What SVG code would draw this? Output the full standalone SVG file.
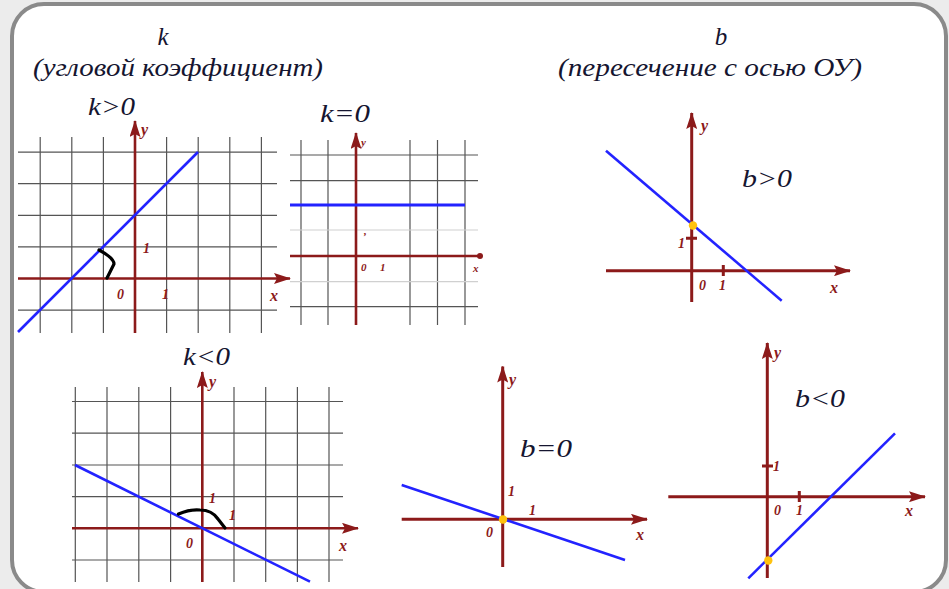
<svg xmlns="http://www.w3.org/2000/svg" width="949" height="589" viewBox="0 0 949 589">
<style>
.grid{stroke:#555;stroke-width:1.2;fill:none}
.lgrid{stroke:#d0d0d0;stroke-width:1.2;fill:none}
.ax{stroke:#8c1a1a;stroke-width:2.6;fill:none}
.axb{stroke:#8c1a1a;stroke-width:3;fill:none}
.ln{stroke:#2323ff;stroke-width:2.6;fill:none}
.ang{stroke:#000;stroke-width:3.2;fill:none;stroke-linecap:round;stroke-linejoin:round}
.dot{fill:#ffc20e}
.al{font-family:"Liberation Serif",serif;font-style:italic;font-weight:bold;fill:#8c1a1a;font-size:14px}
.alx{font-family:"Liberation Serif",serif;font-style:italic;font-weight:bold;fill:#8c1a1a;font-size:16px}
.als{font-family:"Liberation Serif",serif;font-style:italic;font-weight:bold;fill:#8c1a1a;font-size:11px}
.ttl{font-family:"Liberation Serif","DejaVu Serif",serif;font-style:italic;fill:#151530;font-size:25px}
.lbl{font-family:"Liberation Serif","DejaVu Serif",serif;font-style:italic;fill:#151530;font-size:25px}
</style>
<defs>
<marker id="arr" markerUnits="userSpaceOnUse" markerWidth="17" markerHeight="11" viewBox="0 0 17 11" refX="16" refY="5.5" orient="auto">
<path d="M0,0 L17,5.5 L0,11 L3,5.5 z" fill="#8c1a1a"/>
</marker>
</defs>
<rect x="0" y="0" width="949" height="589" fill="#ececec"/>
<rect x="12" y="4" width="934" height="588" rx="32" ry="32" fill="#ffffff" stroke="#8a8a8a" stroke-width="4"/>

<g id="headers">
<text class="ttl" x="163" y="45" text-anchor="middle">k</text>
<text class="ttl" x="33" y="76" textLength="290" lengthAdjust="spacingAndGlyphs">(угловой коэффициент)</text>
<text class="ttl" x="721" y="45" text-anchor="middle">b</text>
<text class="ttl" x="558" y="76" textLength="304" lengthAdjust="spacingAndGlyphs">(пересечение с осью ОУ)</text>
</g>

<g id="graph-k-pos">
<text class="lbl" x="88" y="115" textLength="47" lengthAdjust="spacingAndGlyphs">k&gt;0</text>
<path class="grid" d="M18,152.1H277M18,183.7H277M18,215.3H277M18,246.9H277M18,310.1H277M40.2,137V333M71.8,137V333M103.4,137V333M166.6,137V333M198.2,137V333M229.8,137V333M261.4,137V333"/>
<line class="ax" x1="18" y1="278.5" x2="290" y2="278.5" marker-end="url(#arr)"/>
<line class="ax" x1="135" y1="333" x2="135" y2="121" marker-end="url(#arr)"/>
<line class="ln" x1="18" y1="332" x2="198" y2="152"/>
<path class="ang" d="M99,250 Q114,258 114,264 Q110,272 107,278"/>
<text class="alx" x="141" y="135">y</text>
<text class="alx" x="270" y="301">x</text>
<text class="al" x="143" y="253">1</text>
<text class="al" x="117" y="299">0</text>
<text class="al" x="162" y="299">1</text>
</g>

<g id="graph-k-zero">
<text class="lbl" x="320" y="122" textLength="50" lengthAdjust="spacingAndGlyphs">k=0</text>
<path class="grid" d="M290,155H478M290,180.7H478M290,306.7H478M301,140V325M328,140V325M410,140V325M437.5,140V325M465,140V325"/>
<path class="lgrid" d="M290,230H478M290,281.7H478"/>
<line class="ax" x1="290" y1="256" x2="479" y2="256"/>
<circle cx="480" cy="256" r="3" fill="#8c1a1a"/>
<line class="ax" x1="356" y1="325" x2="356" y2="133" marker-end="url(#arr)"/>
<line class="ln" x1="290" y1="205" x2="465" y2="205" style="stroke-width:3"/>
<text class="als" x="361" y="146">y</text>
<text class="als" x="473" y="272">x</text>
<text class="als" x="361" y="271">0</text>
<text class="als" x="380" y="271">1</text>
<text class="als" x="364" y="235">,</text>
</g>

<g id="graph-b-pos">
<text class="lbl" x="742" y="187" textLength="50" lengthAdjust="spacingAndGlyphs">b&gt;0</text>
<line class="axb" x1="606" y1="270.7" x2="850" y2="270.7" marker-end="url(#arr)"/>
<line class="axb" x1="691.7" y1="302" x2="691.7" y2="113" marker-end="url(#arr)"/>
<path class="axb" d="M723.3,265V276M686,238.3H697"/>
<line class="ln" x1="606" y1="150.7" x2="781.7" y2="300.7"/>
<circle class="dot" cx="693" cy="225.5" r="4.2"/>
<text class="alx" x="701" y="131">y</text>
<text class="alx" x="830" y="293">x</text>
<text class="al" x="699" y="290">0</text>
<text class="al" x="719" y="290">1</text>
<text class="al" x="678" y="248">1</text>
</g>

<g id="graph-k-neg">
<text class="lbl" x="183" y="365" textLength="47" lengthAdjust="spacingAndGlyphs">k&lt;0</text>
<path class="grid" d="M72,401.5H343M72,433.2H343M72,465H343M72,496.6H343M72,560H343M75.3,387V582M107,387V582M138.8,387V582M170.6,387V582M234,387V582M265.7,387V582M297.4,387V582M329,387V582"/>
<line class="ax" x1="72" y1="528.3" x2="358" y2="528.3" marker-end="url(#arr)"/>
<line class="ax" x1="202.3" y1="582" x2="202.3" y2="372" marker-end="url(#arr)"/>
<line class="ln" x1="75" y1="465" x2="310" y2="581.7"/>
<path class="ang" d="M178.5,514 Q190,509 200,510 Q212,510 218,519 L225,528"/>
<text class="alx" x="209" y="387">y</text>
<text class="alx" x="339" y="551">x</text>
<text class="al" x="186" y="548">0</text>
<text class="al" x="209" y="503">1</text>
<text class="al" x="229" y="520">1</text>
</g>

<g id="graph-b-zero">
<text class="lbl" x="520" y="457" textLength="52" lengthAdjust="spacingAndGlyphs">b=0</text>
<line class="axb" x1="401.7" y1="519.3" x2="647" y2="519.3" marker-end="url(#arr)"/>
<line class="axb" x1="502.7" y1="567" x2="502.7" y2="366.5" marker-end="url(#arr)"/>
<line class="ln" x1="401.7" y1="485" x2="625" y2="560"/>
<circle class="dot" cx="503" cy="519.5" r="4.2"/>
<text class="alx" x="509" y="385">y</text>
<text class="alx" x="636" y="540">x</text>
<text class="al" x="486" y="537">0</text>
<text class="al" x="508" y="496">1</text>
<text class="al" x="529" y="515">1</text>
</g>

<g id="graph-b-neg">
<text class="lbl" x="795" y="407" textLength="50" lengthAdjust="spacingAndGlyphs">b&lt;0</text>
<line class="axb" x1="668.3" y1="496.7" x2="925" y2="496.7" marker-end="url(#arr)"/>
<line class="axb" x1="767.3" y1="578" x2="767.3" y2="343" marker-end="url(#arr)"/>
<path class="axb" d="M799.3,491V502M762,466H773"/>
<line class="ln" x1="748.3" y1="578.3" x2="895" y2="433.3"/>
<circle class="dot" cx="768.3" cy="560.5" r="4.2"/>
<text class="alx" x="774" y="358">y</text>
<text class="alx" x="905" y="516">x</text>
<text class="al" x="774" y="515">0</text>
<text class="al" x="796" y="515">1</text>
<text class="al" x="773" y="471">1</text>
</g>
</svg>
